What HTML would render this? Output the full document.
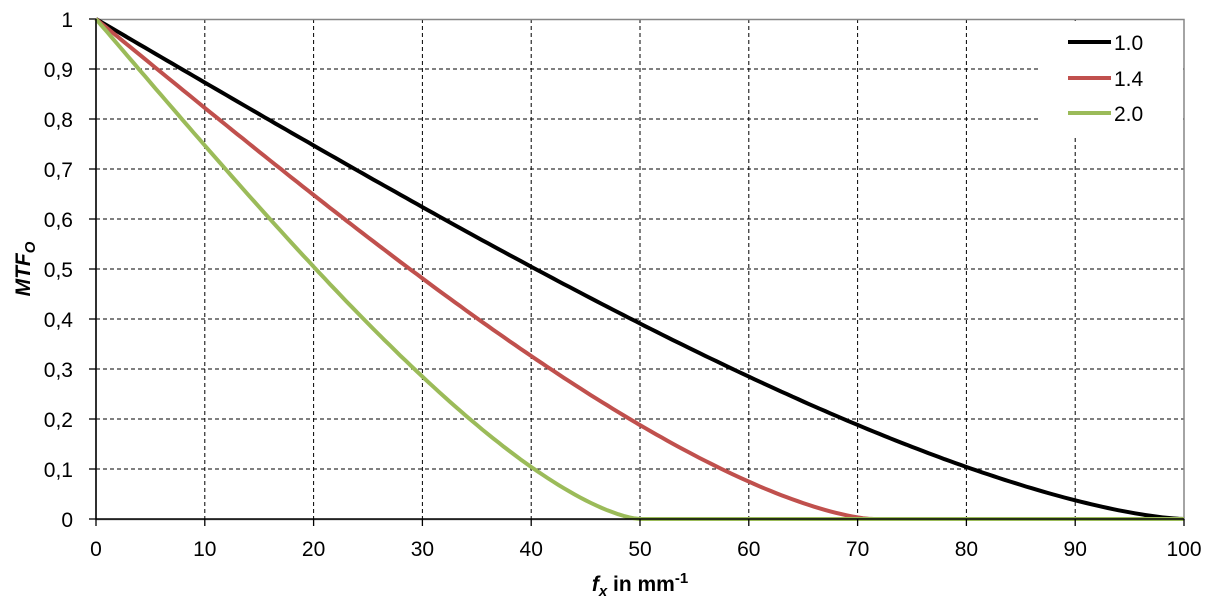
<!DOCTYPE html>
<html><head><style>
body{margin:0;background:#fff;}
svg{display:block;font-family:"Liberation Sans",Arial,sans-serif;}
</style></head><body>
<svg id="s" width="1217" height="608" viewBox="0 0 1217 608">
<g id="grid" stroke="#000" stroke-width="1" stroke-dasharray="4,3"></g>
<rect x="1040" y="21" width="143" height="115" fill="#fff"/>
<rect x="96" y="19.5" width="1088" height="500" fill="none" stroke="#868686" stroke-width="1.5"/>
<g id="curves" fill="none" stroke-width="4" stroke-linejoin="round"></g>
<line x1="96" y1="519" x2="1184" y2="519" stroke="#000" stroke-width="1.5"/>
<line x1="96" y1="19" x2="96" y2="519" stroke="#000" stroke-width="1.5"/>
<g id="labels" font-size="21" fill="#000"></g>
<g font-size="21">
<line x1="1068" y1="42" x2="1111" y2="42" stroke="#000" stroke-width="4"/>
<text x="1114" y="50">1.0</text>
<line x1="1068" y1="78" x2="1111" y2="78" stroke="#c0504d" stroke-width="4"/>
<text x="1114" y="86">1.4</text>
<line x1="1068" y1="113" x2="1111" y2="113" stroke="#9bbb59" stroke-width="4"/>
<text x="1114" y="121">2.0</text>
</g>
<text x="640" y="591" text-anchor="middle" font-size="21" font-weight="bold"><tspan font-style="italic">f</tspan><tspan font-size="15" dy="5" font-style="italic">x</tspan><tspan dy="-5"> in mm</tspan><tspan font-size="15" dy="-8">-1</tspan></text>
<text transform="translate(30,269) rotate(-90)" text-anchor="middle" font-size="21" font-weight="bold" font-style="italic">MTF<tspan font-size="15" dy="5">O</tspan></text>
</svg>
<script>
const NS="http://www.w3.org/2000/svg";
const X=f=>96+f*10.88, Y=v=>519-v*500;
const g=document.getElementById('grid'),L=document.getElementById('labels'),C=document.getElementById('curves');
function el(p,t,a,txt){const e=document.createElementNS(NS,t);for(const k in a)e.setAttribute(k,a[k]);if(txt!=null)e.textContent=txt;p.appendChild(e);return e;}
for(let i=1;i<10;i++){el(g,'line',{x1:X(i*10),y1:19,x2:X(i*10),y2:519});}
for(let i=1;i<10;i++){el(g,'line',{x1:96,y1:Y(i/10),x2:1184,y2:Y(i/10)});}
for(let i=0;i<=10;i++){el(L,'text',{x:X(i*10),y:556,'text-anchor':'middle'},String(i*10));
 el(L,'line',{x1:X(i*10),y1:519,x2:X(i*10),y2:526,stroke:'#000','stroke-width':1.3});}
for(let i=0;i<=10;i++){el(L,'text',{x:73,y:Y(i/10)+8,'text-anchor':'end'},i==0?'0':i==10?'1':'0,'+i);
 el(L,'line',{x1:89,y1:Y(i/10),x2:96,y2:Y(i/10),stroke:'#000','stroke-width':1.3});}
function mtf(f,fc){const v=f/fc;if(v>=1)return 0;return 2/Math.PI*(Math.acos(v)-v*Math.sqrt(1-v*v));}
[[100,'#000'],[71.4,'#c0504d'],[50,'#9bbb59']].forEach(([fc,c])=>{let d='';for(let f=0;f<=100;f+=0.5){d+=(f?'L':'M')+X(f).toFixed(1)+','+Y(mtf(f,fc)).toFixed(1);}el(C,'path',{d:d,stroke:c});});
</script>
</body></html>
